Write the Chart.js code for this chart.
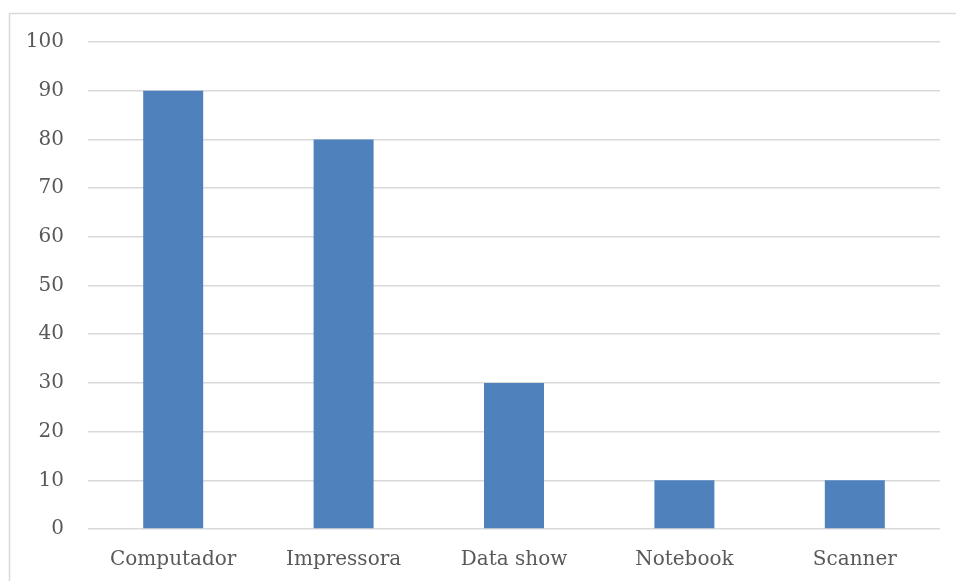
<!DOCTYPE html>
<html>
<head>
<meta charset="utf-8">
<script src="https://cdn.jsdelivr.net/npm/chart.js@4/dist/chart.umd.min.js"></script>
<style>
  html, body { margin: 0; padding: 0; background: #ffffff; }
  #wrap { position: relative; width: 956px; height: 581px; }
</style>
</head>
<body>
<div id="wrap"><canvas id="c" width="956" height="581"></canvas></div>
<script>
const categories = ['Computador', 'Impressora', 'Data show', 'Notebook', 'Scanner'];
const values = [90, 80, 30, 10, 10];
const yTicks = [0, 10, 20, 30, 40, 50, 60, 70, 80, 90, 100];

// Light frame around the chart area (open on the right and bottom edges of the page)
const framePlugin = {
  id: 'frame',
  beforeDraw(chart) {
    const ctx = chart.ctx;
    ctx.save();
    ctx.strokeStyle = '#d9d9d9';
    ctx.lineWidth = 1.5;
    ctx.beginPath();
    ctx.moveTo(9.5, chart.height);
    ctx.lineTo(9.5, 13.5);
    ctx.lineTo(chart.width, 13.5);
    ctx.stroke();
    ctx.restore();
  }
};

const font = { family: '"DejaVu Serif", "Liberation Serif", serif', size: 20 };

new Chart(document.getElementById('c'), {
  type: 'bar',
  data: {
    labels: categories,
    datasets: [{
      data: values,
      backgroundColor: '#4f81bd',
      borderWidth: 0,
      categoryPercentage: 1,
      barPercentage: 0.352
    }]
  },
  plugins: [framePlugin],
  options: {
    responsive: false,
    animation: false,
    layout: { padding: { top: 42, right: 16, left: 0, bottom: 0 } },
    plugins: { legend: { display: false }, tooltip: { enabled: false } },
    scales: {
      x: {
        grid: { display: false, drawTicks: false },
        border: { display: false },
        ticks: { color: '#595959', font: font, padding: 19, maxRotation: 0 },
        afterFit(scale) { scale.height = 52; }
      },
      y: {
        min: 0,
        max: 100,
        afterBuildTicks(scale) { scale.ticks = yTicks.map(v => ({ value: v })); },
        grid: { color: '#d9d9d9', lineWidth: 1.5, drawTicks: false },
        border: { display: false },
        ticks: { color: '#595959', font: font, padding: 24 },
        afterFit(scale) { scale.width = 88; }
      }
    }
  }
});
</script>
</body>
</html>
